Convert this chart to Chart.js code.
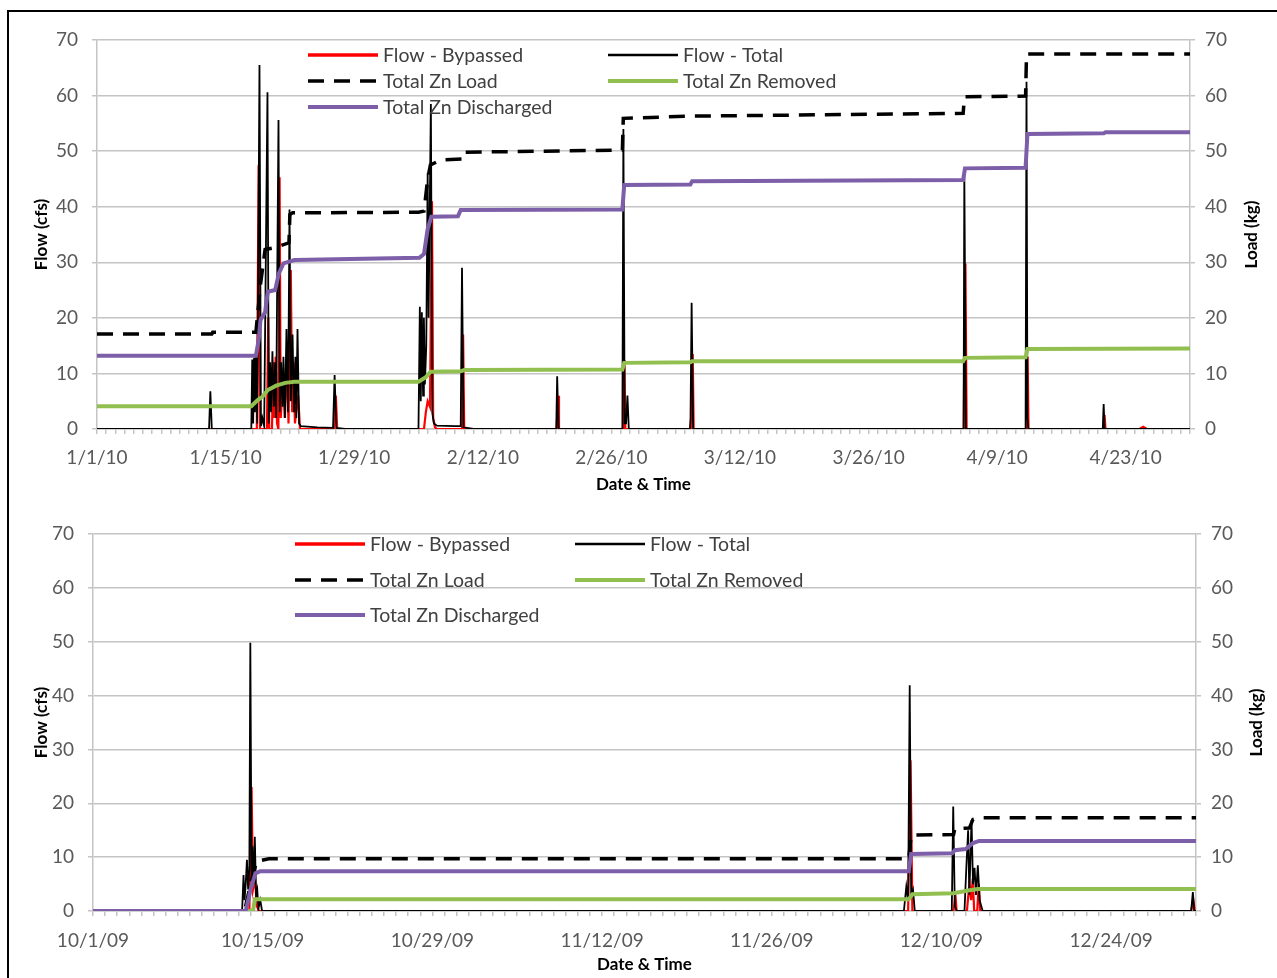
<!DOCTYPE html>
<html>
<head>
<meta charset="utf-8">
<title>Zn load and flow</title>
<script src="https://cdn.jsdelivr.net/npm/chart.js@4.4.1/dist/chart.umd.min.js"></script>
<style>
  html, body { margin: 0; padding: 0; background: #fff; }
  #page { position: relative; width: 1277px; height: 978px; overflow: hidden; background: #fff; }
  #frame { position: absolute; left: 7px; top: 10px; width: 1300px; height: 1000px;
           border-left: 2px solid #000; border-top: 2px solid #000; }
  .box { position: absolute; left: 10px; width: 1267px; }
  #topBox { top: 12px; height: 488px; }
  #bottomBox { top: 500px; height: 478px; }
</style>
</head>
<body>
<div id="page">
  <div id="frame"></div>
  <div class="box" id="topBox"><canvas id="topChart" width="1267" height="488"></canvas></div>
  <div class="box" id="bottomBox"><canvas id="bottomChart" width="1267" height="478"></canvas></div>
</div>
<script>
// ---- data: x = days since first date on the axis, y = cfs (flow) or kg (load) ----

// Jan - Apr 2010 (day 0 = 1/1/10)
const topDateLabels = ['1/1/10', '1/15/10', '1/29/10', '2/12/10', '2/26/10', '3/12/10', '3/26/10', '4/9/10', '4/23/10'];
const topDays = 119;

const topFlowBypassed = [
  [0, 0], [17.4, 0], [17.6, 47.5], [17.75, 0], [18.5, 0], [18.65, 20], [18.75, 0], [19.05, 0], [19.2, 12], [19.3, 2],
  [19.45, 13], [19.6, 1], [19.75, 0], [19.88, 45.3], [20.0, 2], [20.3, 10], [20.45, 2], [20.7, 12], [20.85, 1],
  [21.1, 28.6], [21.25, 3], [21.4, 12], [21.55, 1], [21.9, 6], [22.1, 0], [25.8, 0], [26.0, 6], [26.15, 0],
  [35.6, 0], [35.8, 3], [36.0, 5], [36.25, 4], [36.47, 41], [36.6, 2], [36.8, 0.3], [37, 0], [39.75, 0], [39.86, 17], [39.98, 0],
  [50.05, 0], [50.2, 6], [50.3, 0], [57.3, 0], [57.42, 12.4], [57.52, 0],
  [64.65, 0], [64.75, 4], [64.86, 13.5], [64.96, 0], [94.35, 0], [94.55, 29.8], [94.68, 0],
  [101.15, 0], [101.32, 13], [101.42, 0], [109.6, 0], [109.7, 2.5], [109.8, 0],
  [113.5, 0], [113.9, 0.4], [114.3, 0], [119, 0]
];
const topFlowTotal = [
  [0, 0], [12.2, 0], [12.34, 6.8], [12.5, 0],
  [16.8, 0], [16.9, 12.5], [17.0, 1], [17.1, 12.8], [17.2, 3], [17.3, 13], [17.45, 1], [17.69, 65.5], [17.85, 0.5],
  [18.0, 2], [18.2, 0.5], [18.56, 60.6], [18.7, 1], [18.85, 12], [18.95, 3], [19.1, 14], [19.25, 4], [19.4, 12],
  [19.5, 2], [19.76, 55.6], [19.9, 3], [20.05, 12], [20.2, 4], [20.3, 13], [20.45, 2], [20.63, 18], [20.8, 3],
  [20.96, 39.5], [21.1, 5], [21.29, 17], [21.45, 3], [21.6, 13], [21.7, 2], [21.83, 18], [22.0, 1], [22.2, 0.5],
  [24, 0.3], [25.7, 0.2], [25.87, 9.7], [26.05, 0.2], [27, 0],
  [35.0, 0], [35.15, 22], [35.25, 5], [35.37, 21], [35.5, 6], [35.59, 20], [35.7, 8], [35.85, 15], [36.0, 46],
  [36.1, 20], [36.35, 58.5], [36.5, 3], [36.68, 1], [37, 0.6], [39.0, 0.5], [39.6, 0.5], [39.74, 29], [39.9, 0.3], [41, 0],
  [50.0, 0], [50.1, 9.5], [50.25, 0], [57.2, 0], [57.31, 54], [57.45, 1], [57.6, 1], [57.75, 6], [57.9, 0],
  [64.55, 0], [64.62, 2], [64.74, 22.7], [64.9, 0], [94.3, 0], [94.36, 6], [94.43, 46], [94.6, 0],
  [101.1, 0], [101.2, 62.5], [101.3, 2], [101.4, 0], [109.5, 0], [109.6, 4.5], [109.7, 0], [119, 0]
];
const topZnLoad = [
  [0, 17.1], [12.5, 17.1], [12.6, 17.4], [17.3, 17.4], [17.8, 26], [18.3, 32.3], [19.3, 32.6], [20.9, 33.5],
  [21.0, 38.6], [21.3, 38.9], [35.0, 39.0], [35.6, 39.2], [36.0, 45], [36.3, 47.5], [37.4, 48.4],
  [39.7, 48.6], [39.8, 49.8], [57.2, 50.2], [57.3, 55.9], [64.7, 56.3], [94.3, 56.8], [94.45, 59.8],
  [101.1, 59.9], [101.2, 67.5], [119, 67.5]
];
const topZnRemoved = [
  [0, 4.1], [16.8, 4.1], [17.5, 5.2], [18.0, 5.8], [18.6, 7.0], [19.5, 7.8], [20.5, 8.3], [21.5, 8.5],
  [35.0, 8.5], [35.8, 9.3], [36.3, 10.3], [39.6, 10.4], [40, 10.6], [57.2, 10.7], [57.4, 11.9], [64.6, 12.0],
  [64.8, 12.2], [94.3, 12.2], [94.5, 12.8], [101.1, 12.9], [101.3, 14.4], [119, 14.5]
];
const topZnDischarged = [
  [0, 13.2], [17.3, 13.2], [17.6, 16], [17.8, 19.6], [18.3, 21], [18.6, 24.7], [19.4, 25], [19.8, 28],
  [20.3, 29.8], [21.5, 30.4], [35.1, 30.8], [35.6, 31.5], [36.0, 36], [36.4, 38.2], [39.3, 38.3], [39.6, 39.4],
  [57.2, 39.5], [57.4, 43.9], [64.6, 44.0], [64.8, 44.6], [94.3, 44.8], [94.5, 46.9], [101.1, 47.0],
  [101.3, 53.1], [109.6, 53.2], [109.8, 53.4], [119, 53.4]
];

// Oct - Dec 2009 (day 0 = 10/1/09)
const bottomDateLabels = ['10/1/09', '10/15/09', '10/29/09', '11/12/09', '11/26/09', '12/10/09', '12/24/09'];
const bottomDays = 91;

const bottomFlowBypassed = [
  [0, 0], [12.9, 0], [13.08, 23], [13.2, 4], [13.38, 6], [13.5, 1], [13.7, 0],
  [67.25, 0], [67.45, 28], [67.6, 0], [71.0, 0], [71.15, 3], [71.25, 0],
  [72.1, 0], [72.3, 5], [72.45, 2], [72.58, 6], [72.7, 0], [72.95, 0], [73.08, 5], [73.2, 0],
  [90.6, 0], [90.78, 2], [90.9, 0], [91, 0]
];
const bottomFlowTotal = [
  [0, 0], [12.3, 0], [12.42, 6.7], [12.5, 2], [12.6, 5], [12.7, 9.5], [12.8, 4], [12.9, 8], [12.98, 49.8],
  [13.08, 6], [13.15, 12], [13.25, 5], [13.35, 13.8], [13.45, 3], [13.55, 4], [13.65, 0.5], [13.8, 2], [13.95, 0],
  [66.9, 0], [67.1, 4.5], [67.25, 2], [67.38, 41.9], [67.5, 3], [67.65, 4], [67.8, 0],
  [70.85, 0], [70.97, 19.4], [71.1, 1], [71.25, 0],
  [71.9, 0], [72.05, 8], [72.2, 15], [72.3, 3], [72.48, 16.9], [72.6, 5], [72.73, 8], [72.85, 3], [73.0, 8.5],
  [73.15, 2], [73.4, 0], [90.6, 0], [90.74, 3.5], [90.85, 0], [91, 0]
];
const bottomZnLoad = [
  [0, 0], [12.5, 0], [13.0, 5], [13.5, 9.2], [14.5, 9.7], [67.3, 9.7], [67.5, 14.1], [71.0, 14.2],
  [71.1, 15.3], [72.3, 15.4], [72.6, 17.0], [73.2, 17.3], [91, 17.3]
];
const bottomZnRemoved = [
  [0, 0], [13.2, 0], [13.35, 2.2], [67.3, 2.2], [67.6, 3.1], [71.0, 3.3], [72.2, 3.8], [73.0, 4.1], [91, 4.1]
];
const bottomZnDischarged = [
  [0, 0], [12.6, 0], [13.0, 4], [13.4, 7.0], [13.8, 7.4], [67.3, 7.4], [67.5, 10.6], [70.9, 10.7],
  [71.1, 11.3], [72.0, 11.5], [72.6, 12.6], [73.1, 13.0], [91, 13.0]
];

const seriesNames = ['Flow - Bypassed', 'Flow - Total', 'Total Zn Load', 'Total Zn Removed', 'Total Zn Discharged'];

// ---- drawing ----
const FONT = 'Lato, "Open Sans", sans-serif';
const GRID = '#c4c4c4';

// legend + axis titles drawn by hand so they can sit over the plot like the original
const decorPlugin = {
  id: 'decor',
  afterDraw(chart, args, o) {
    const ctx = chart.ctx, a = chart.chartArea;
    const midY = (a.top + a.bottom) / 2;
    ctx.save();
    ctx.fillStyle = '#000';
    ctx.font = 'bold 17px ' + FONT;
    ctx.textAlign = 'center';
    ctx.textBaseline = 'middle';
    [[a.left + o.leftTitleDx, 'Flow (cfs)'], [a.right + o.rightTitleDx, 'Load (kg)']].forEach(([x, t]) => {
      ctx.save();
      ctx.translate(x, midY);
      ctx.rotate(-Math.PI / 2);
      ctx.fillText(t, 0, 0);
      ctx.restore();
    });
    ctx.fillText('Date & Time', (a.left + a.right) / 2, a.bottom + o.xTitleDy);

    ctx.font = '19.5px ' + FONT;
    ctx.textAlign = 'left';
    chart.data.datasets.forEach((ds, i) => {
      const x = o.legendX[i % 2], y = o.legendY[Math.floor(i / 2)];
      ctx.beginPath();
      ctx.strokeStyle = ds.borderColor;
      ctx.lineWidth = ds.legendWidth;
      ctx.setLineDash(ds.borderDash || []);
      ctx.moveTo(x, y);
      ctx.lineTo(x + 70, y);
      ctx.stroke();
      ctx.setLineDash([]);
      ctx.fillStyle = '#404040';
      ctx.fillText(ds.label, x + 75, y + 1);
    });
    ctx.restore();
  }
};

function makeChart(id, s) {
  const line = (i, data, color, width, order, extra) => Object.assign({
    label: seriesNames[i], data: data, borderColor: color, borderWidth: width, legendWidth: Math.max(width, 3.5),
    pointRadius: 0, tension: 0, fill: false, order: order, yAxisID: i < 2 ? 'y' : 'y1'
  }, extra || {});

  const yScale = (pos, pad) => ({
    position: pos, min: 0, max: 70,
    ticks: { stepSize: 10, padding: pad, color: '#595959', font: { family: FONT, size: 19 } },
    grid: { color: GRID, lineWidth: 1.5, tickLength: 5, drawOnChartArea: pos === 'left' },
    border: { color: GRID, width: 1.5 },
    afterFit: sc => { sc.width = pos === 'left' ? s.leftW : s.rightW; }
  });

  return new Chart(document.getElementById(id), {
    type: 'line',
    data: {
      datasets: [
        line(0, s.bypassed, '#ff0000', 2.2, 4),
        line(1, s.total, '#000000', 1.8, 3, { legendWidth: 2.5 }),
        line(2, s.load, '#000000', 3.5, 2, { borderDash: [16, 10] }),
        line(3, s.removed, '#92c050', 4, 1),
        line(4, s.discharged, '#7d5ea8', 4, 0)
      ]
    },
    options: {
      responsive: false,
      animation: false,
      devicePixelRatio: 1,
      layout: { padding: { top: s.padTop, left: 0, right: 0, bottom: 0 } },
      plugins: { legend: { display: false }, tooltip: { enabled: false }, decor: s.decor },
      scales: {
        x: {
          type: 'linear', min: 0, max: s.days,
          ticks: {
            stepSize: 1, autoSkip: false, maxRotation: 0, padding: s.xPad,
            color: '#595959', font: { family: FONT, size: 19 },
            callback: v => (v % 14 === 0 ? s.labels[v / 14] : '')
          },
          grid: { drawOnChartArea: false, color: GRID, lineWidth: 1.5, tickLength: 5 },
          border: { color: GRID, width: 1.5 },
          afterFit: sc => { sc.height = s.bottomH; }
        },
        y: yScale('left', 14),
        y1: yScale('right', 10)
      }
    },
    plugins: [decorPlugin]
  });
}

makeChart('topChart', {
  labels: topDateLabels, days: topDays,
  bypassed: topFlowBypassed, total: topFlowTotal, load: topZnLoad, removed: topZnRemoved, discharged: topZnDischarged,
  leftW: 87, rightW: 87, bottomH: 71, padTop: 28, xPad: 12,
  decor: { leftTitleDx: -55, rightTitleDx: 62, xTitleDy: 56, legendX: [298, 598], legendY: [43, 69, 95] }
});

makeChart('bottomChart', {
  labels: bottomDateLabels, days: bottomDays,
  bypassed: bottomFlowBypassed, total: bottomFlowTotal, load: bottomZnLoad, removed: bottomZnRemoved, discharged: bottomZnDischarged,
  leftW: 83, rightW: 81, bottomH: 67, padTop: 34, xPad: 13,
  decor: { leftTitleDx: -51, rightTitleDx: 61, xTitleDy: 54, legendX: [285, 565], legendY: [44, 80, 115] }
});
</script>
</body>
</html>
